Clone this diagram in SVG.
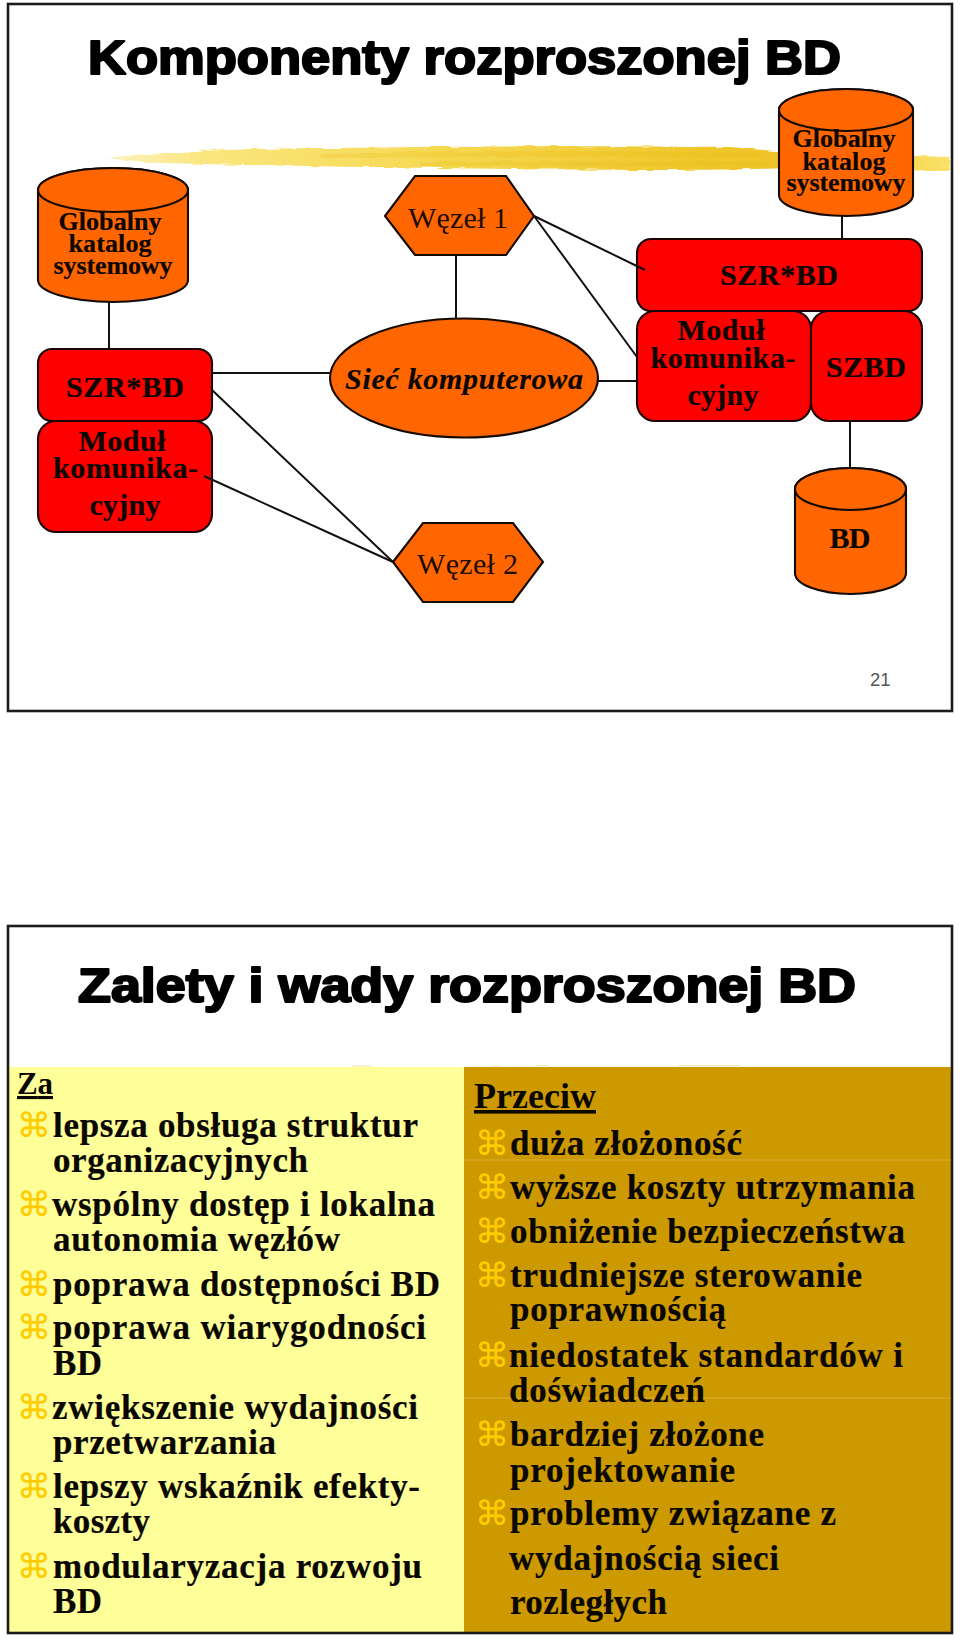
<svg xmlns="http://www.w3.org/2000/svg" width="960" height="1641" viewBox="0 0 960 1641">
<style>
.frame{fill:none;stroke:#1c1c1c;stroke-width:2.6}
.title{font-family:"Liberation Sans",Arial,sans-serif;font-weight:700;font-size:48px;fill:#000;stroke:#000;stroke-width:2.2;stroke-linejoin:round}
.o{fill:#ff6600;stroke:#140a00;stroke-width:2.1}
.r{fill:#ff0000;stroke:#1c0404;stroke-width:2.1}
.conn{stroke:#111;stroke-width:2;fill:none}
.b{font-family:"Liberation Serif","Times New Roman",serif;font-weight:700;fill:#0c0700;stroke:#0c0700;stroke-width:.2;text-anchor:middle}
.n{font-family:"Liberation Serif","Times New Roman",serif;fill:#1c0c00;font-size:30px}
.cat{font-size:26px}
.box{font-size:30px}
.li{font-family:"Liberation Serif","Times New Roman",serif;font-weight:700;font-size:35px;fill:#0a0700;stroke:#0a0700;stroke-width:.2}
.h{font-family:"Liberation Serif","Times New Roman",serif;font-weight:700;fill:#0a0700;text-decoration:underline}
.bu{font-family:"DejaVu Sans",sans-serif;font-size:34px;fill:#ffcc00;stroke:#ffcc00;stroke-width:.25}
.num{font-family:"Liberation Sans",Arial,sans-serif;font-size:18.500px;fill:#555}
</style>
<defs>
<linearGradient id="brush" x1="0" x2="1" y1="0" y2="0">
<stop offset="0" stop-color="#fdf3c0"/><stop offset=".12" stop-color="#fae67f"/><stop offset=".4" stop-color="#f6d850"/><stop offset=".72" stop-color="#efc62a"/><stop offset=".85" stop-color="#eec32a"/><stop offset="1" stop-color="#fae26a"/>
</linearGradient>
<filter id="rough" x="-2%" y="-40%" width="104%" height="180%">
<feTurbulence type="fractalNoise" baseFrequency="0.05 0.35" numOctaves="2" seed="4"/>
<feDisplacementMap in="SourceGraphic" scale="4" xChannelSelector="R" yChannelSelector="G"/>
</filter>
</defs>
<rect width="960" height="1641" fill="#fff"/>

<g id="slide1-background">
<g filter="url(#rough)">
<path d="M103 158 C160 152 240 148 340 148 C450 146 600 146 730 147 L785 152 L950 157 L950 171 L790 168 C700 171 560 170 440 168 C340 167 240 165 160 163 Z" fill="url(#brush)"/>
<path d="M320 154 C430 151 620 150 760 153 L760 158 C620 156 430 157 320 158 Z" fill="#e8b80f" opacity=".22"/>
<path d="M420 162 C520 161 640 162 770 162 L770 165 C640 167 520 166 420 166 Z" fill="#e3b30c" opacity=".2"/>
</g>
</g>

<text id="title1" class="title" x="88" y="74" textLength="753" lengthAdjust="spacingAndGlyphs">Komponenty rozproszonej BD</text>

<g id="catalog-left">
<path class="o" d="M38 190 A75 22 0 0 1 188 190 L188 280 A75 22 0 0 1 38 280 Z"/>
<ellipse class="o" cx="113" cy="190" rx="75" ry="22"/>
<text class="b cat" x="110" y="230" textLength="103">Globalny</text>
<text class="b cat" x="110" y="252" textLength="83">katalog</text>
<text class="b cat" x="113" y="274" textLength="119">systemowy</text>
</g>
<g id="catalog-right">
<path class="o" d="M779 110 A67 21 0 0 1 913 110 L913 195 A67 21 0 0 1 779 195 Z"/>
<ellipse class="o" cx="846" cy="110" rx="67" ry="21"/>
<text class="b cat" x="844" y="147" textLength="103">Globalny</text>
<text class="b cat" x="844" y="170" textLength="83">katalog</text>
<text class="b cat" x="846" y="191" textLength="119">systemowy</text>
</g>
<g id="wezel-1">
<polygon class="o" points="385,216 415,176 506,176 534,216 506,255 415,255"/>
<text class="n" x="408" y="228" textLength="100">Węzeł 1</text>
</g>
<g id="siec">
<ellipse class="o" cx="464" cy="378" rx="134" ry="59.5"/>
<text class="b box" x="464" y="389" font-style="italic" textLength="238">Sieć komputerowa</text>
</g>
<g id="wezel-2">
<polygon class="o" points="393,562 423,523 513,523 543,562 513,602 423,602"/>
<text class="n" x="417" y="574" textLength="101">Węzeł 2</text>
</g>
<g id="szr-left">
<rect class="r" x="38" y="349" width="174" height="72" rx="14"/>
<text class="b box" x="125" y="397" textLength="118">SZR*BD</text>
</g>
<g id="modul-left">
<rect class="r" x="38" y="421" width="174" height="111" rx="18"/>
<text class="b box" x="122" y="451" textLength="87">Moduł</text>
<text class="b box" x="125.500" y="478" textLength="145">komunika-</text>
<text class="b box" x="125" y="515" textLength="71">cyjny</text>
</g>
<g id="szr-right">
<rect class="r" x="637" y="239" width="285" height="72" rx="14"/>
<text class="b box" x="779" y="285" textLength="118">SZR*BD</text>
</g>
<g id="modul-right">
<rect class="r" x="637" y="311" width="174" height="110" rx="18"/>
<text class="b box" x="721" y="340" textLength="87">Moduł</text>
<text class="b box" x="723" y="368" textLength="145">komunika-</text>
<text class="b box" x="723" y="405" textLength="71">cyjny</text>
</g>
<g id="szbd">
<rect class="r" x="811" y="311" width="111" height="110" rx="18"/>
<text class="b box" x="866" y="377" textLength="80">SZBD</text>
</g>
<g id="bd">
<path class="o" d="M795 489 A55.500 21 0 0 1 906 489 L906 573 A55.500 21 0 0 1 795 573 Z"/>
<ellipse class="o" cx="850.500" cy="489" rx="55.500" ry="21"/>
<text class="b box" x="850" y="548" textLength="41">BD</text>
</g>

<g id="connectors">
<line class="conn" x1="109" y1="302" x2="109" y2="349"/>
<line class="conn" x1="456" y1="255" x2="456" y2="318"/>
<line class="conn" x1="842" y1="216" x2="842" y2="239"/>
<line class="conn" x1="212" y1="373" x2="330" y2="373"/>
<line class="conn" x1="212" y1="390" x2="393" y2="562"/>
<line class="conn" x1="204" y1="476" x2="393" y2="562"/>
<line class="conn" x1="534" y1="216" x2="645" y2="270"/>
<line class="conn" x1="534" y1="216" x2="637" y2="357"/>
<line class="conn" x1="598" y1="381" x2="637" y2="381"/>
<line class="conn" x1="850" y1="421" x2="850" y2="468"/>
</g>

<text class="num" x="870" y="686">21</text>
<rect class="frame" x="8" y="4" width="944" height="707"/>

<text id="title2" class="title" x="78" y="1002" textLength="778" lengthAdjust="spacingAndGlyphs">Zalety i wady rozproszonej BD</text>

<path d="M352 1066H372M492 1066H500M536 1065.500H548M678 1065.500H740" stroke="#f3dc8c" stroke-width="1.200" opacity=".7"/>

<g id="panel-za">
<rect x="9" y="1067" width="455" height="565" fill="#ffff99"/>
<text class="h" x="17" y="1094" font-size="31" textLength="36">Za</text>
<text class="bu" x="17" y="1137">⌘</text><text class="li" x="53" y="1137" textLength="365">lepsza obsługa struktur</text>
<text class="li" x="53" y="1172" textLength="255">organizacyjnych</text>
<text class="bu" x="17" y="1216">⌘</text><text class="li" x="52" y="1216" textLength="383">wspólny dostęp i lokalna</text>
<text class="li" x="53" y="1251" textLength="287">autonomia węzłów</text>
<text class="bu" x="17" y="1296">⌘</text><text class="li" x="53" y="1296" textLength="387">poprawa dostępności BD</text>
<text class="bu" x="17" y="1339">⌘</text><text class="li" x="53" y="1339" textLength="373">poprawa wiarygodności</text>
<text class="li" x="53" y="1375" textLength="49">BD</text>
<text class="bu" x="17" y="1419">⌘</text><text class="li" x="52" y="1419" textLength="366">zwiększenie wydajności</text>
<text class="li" x="53" y="1454" textLength="223">przetwarzania</text>
<text class="bu" x="17" y="1498">⌘</text><text class="li" x="53" y="1498" textLength="367">lepszy wskaźnik efekty-</text>
<text class="li" x="53" y="1533" textLength="97">koszty</text>
<text class="bu" x="17" y="1578">⌘</text><text class="li" x="53" y="1578" textLength="369">modularyzacja rozwoju</text>
<text class="li" x="53" y="1613" textLength="49">BD</text>
</g>

<g id="panel-przeciw">
<rect x="464" y="1067" width="487" height="565" fill="#cc9900"/>
<path d="M464 1160H951M464 1398H951" stroke="#d9ae33" stroke-width="1"/>
<text class="h" x="474" y="1108" font-size="36" textLength="122">Przeciw</text>
<text class="bu" x="475" y="1155">⌘</text><text class="li" x="510" y="1155" textLength="232">duża złożoność</text>
<text class="bu" x="475" y="1199">⌘</text><text class="li" x="510" y="1199" textLength="405">wyższe koszty utrzymania</text>
<text class="bu" x="475" y="1243">⌘</text><text class="li" x="510" y="1243" textLength="395">obniżenie bezpieczeństwa</text>
<text class="bu" x="475" y="1287">⌘</text><text class="li" x="510" y="1287" textLength="352">trudniejsze sterowanie</text>
<text class="li" x="510" y="1321" textLength="216">poprawnością</text>
<text class="bu" x="475" y="1367">⌘</text><text class="li" x="509" y="1367" textLength="394">niedostatek standardów i</text>
<text class="li" x="509" y="1402" textLength="196">doświadczeń</text>
<text class="bu" x="475" y="1446">⌘</text><text class="li" x="510" y="1446" textLength="254">bardziej złożone</text>
<text class="li" x="510" y="1482" textLength="225">projektowanie</text>
<text class="bu" x="475" y="1525">⌘</text><text class="li" x="510" y="1525" textLength="326">problemy związane z</text>
<text class="li" x="509" y="1570" textLength="270">wydajnością sieci</text>
<text class="li" x="510" y="1614" textLength="157">rozległych</text>
</g>
<rect class="frame" x="8" y="926" width="944" height="707"/>
</svg>
